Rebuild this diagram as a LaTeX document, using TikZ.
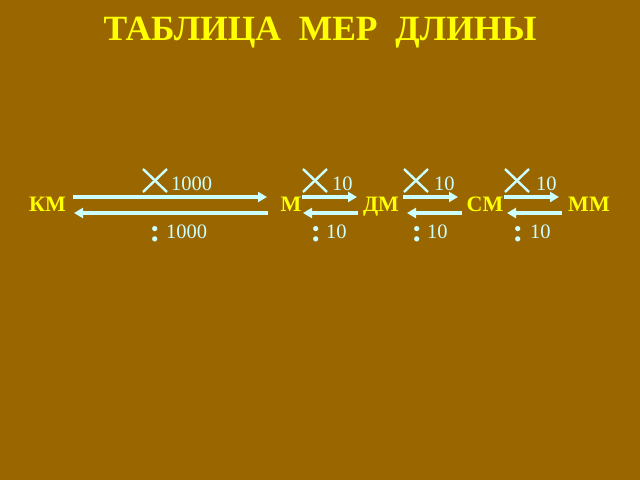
\documentclass[tikz,border=0pt]{standalone}
\usepackage{fontspec}
\setmainfont{Liberation Serif}
\usetikzlibrary{arrows.meta}
\definecolor{bg}{HTML}{996600}
\definecolor{ylw}{HTML}{FFFF00}
\definecolor{cyn}{HTML}{CCFFFF}
\begin{document}
\begin{tikzpicture}[x=1pt,y=-1pt,
  unitlbl/.style={text=ylw,font=\bfseries\fontsize{22}{24}\selectfont,inner sep=0pt,anchor=base},
  numlbl/.style={text=cyn,font=\fontsize{20.5}{22}\selectfont,inner sep=0pt,anchor=base west},
  colonlbl/.style={text=cyn,font=\bfseries\fontsize{32}{34}\selectfont,inner sep=0pt,anchor=base},
  arr/.style={draw=cyn,line width=3.6pt,-{Triangle[length=9pt,width=10pt]}},
  times/.style={draw=cyn,line width=2.4pt}]
\fill[bg] (0,0) rectangle (640,480);
\useasboundingbox (0,0) rectangle (640,480);
\node[text=ylw,font=\bfseries\fontsize{35.5}{38}\selectfont,inner sep=0pt,anchor=base] (title) at (320,40) {ТАБЛИЦА\ \ МЕР\ \ ДЛИНЫ};
% units
\node[unitlbl] (km) at (47.5,211) {КМ};
\node[unitlbl] (m) at (291,211) {М};
\node[unitlbl] (dm) at (381,211) {ДМ};
\node[unitlbl] (sm) at (485,211) {СМ};
\node[unitlbl] (mm) at (589,211) {ММ};
% arrow endpoints
\coordinate (a1s) at (73,197); \coordinate (a1e) at (267,197);
\coordinate (b1s) at (268,213); \coordinate (b1e) at (74,213);
\coordinate (a2s) at (302,197); \coordinate (a2e) at (357,197);
\coordinate (b2s) at (358,213); \coordinate (b2e) at (303,213);
\coordinate (a3s) at (403,197); \coordinate (a3e) at (458,197);
\coordinate (b3s) at (462,213); \coordinate (b3e) at (407,213);
\coordinate (a4s) at (504,197); \coordinate (a4e) at (559,197);
\coordinate (b4s) at (562,213); \coordinate (b4e) at (507,213);
\draw[arr] (a1s) -- (a1e);
\draw[arr] (b1s) -- (b1e);
\draw[arr] (a2s) -- (a2e);
\draw[arr] (b2s) -- (b2e);
\draw[arr] (a3s) -- (a3e);
\draw[arr] (b3s) -- (b3e);
\draw[arr] (a4s) -- (a4e);
\draw[arr] (b4s) -- (b4e);
% multiply signs
\foreach \x/\n in {143/x1,303/x2,404/x3,505/x4}{
  \coordinate (\n a) at (\x,169); \coordinate (\n b) at (\x+24,192);
  \coordinate (\n c) at (\x+24,169); \coordinate (\n d) at (\x,192);
  \draw[times] (\n a) -- (\n b);
  \draw[times] (\n c) -- (\n d);
}
% top numbers
\node[numlbl] (t1) at (171,190) {1000};
\node[numlbl] (t2) at (332,190) {10};
\node[numlbl] (t3) at (434,190) {10};
\node[numlbl] (t4) at (536,190) {10};
% colons and bottom numbers
\node[colonlbl] (c1) at (155,241) {:};
\node[colonlbl] (c2) at (316,241) {:};
\node[colonlbl] (c3) at (417,241) {:};
\node[colonlbl] (c4) at (518,241) {:};
\node[numlbl] (n1) at (166,238) {1000};
\node[numlbl] (n2) at (326,238) {10};
\node[numlbl] (n3) at (427,238) {10};
\node[numlbl] (n4) at (530,238) {10};
\end{tikzpicture}
\end{document}
